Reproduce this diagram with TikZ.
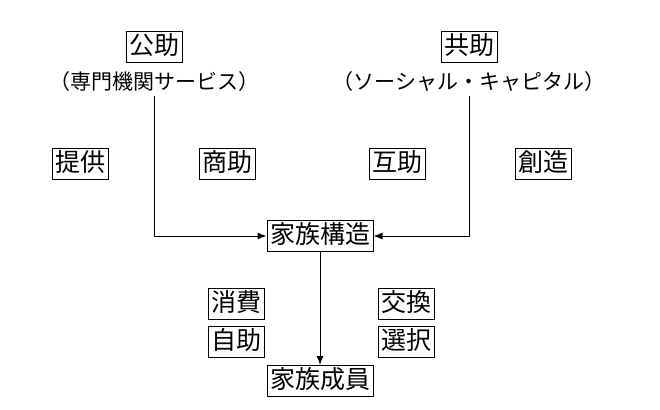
\documentclass[tikz,border=0pt]{standalone}
\usepackage{fontspec}
\setmainfont{Noto Sans CJK JP}
\usetikzlibrary{arrows.meta,positioning}

\begin{document}
\begin{tikzpicture}[
    x=1pt, y=-1pt,
    >={Latex[length=9pt,width=7pt]},
    font=\fontsize{25}{28}\selectfont,
    node distance=35pt,
    box/.style={
		rectangle,
		draw=black,
		line width=1pt,
		text centered,
		inner sep=3pt,
		text height=20pt,
		text depth=5pt,
		fill=white
	},
	sub/.style={
		text centered,
		inner sep=0pt,
		font=\fontsize{21}{24}\selectfont
	},
	link/.style={
		line width=1pt,
		->
	}
  ]
\useasboundingbox (0,0) rectangle (660,409);

% // top: 公助 and 共助
 \node [box] (kojo) at (154,47) {公助};
 \node [sub, below of=kojo] (kojosub) {（専門機関サービス）};
 \node [box] (kyojo) at (469,47) {共助};
 \node [sub, below of=kyojo] (kyojosub) {（ソーシャル・キャピタル）};

% // middle labels
 \node [box] (teikyo) at (80,164) {提供};
 \node [box] (shojo) at (227,164) {商助};
 \node [box] (gojo) at (397,164) {互助};
 \node [box] (sozo) at (543,164) {創造};

% // family
 \node [box] (kozo) at (320,236) {家族構造};
 \node [box] (seiin) at (320,381) {家族成員};

 \node [box] (shohi) at (236,304) {消費};
 \node [box] (jijo) at (236,342) {自助};
 \node [box] (kokan) at (406,304) {交換};
 \node [box] (sentaku) at (406,342) {選択};

 \draw [link] (kojosub.south) ++(0,4) |- (kozo.west);
 \draw [link] (kyojosub.south) ++(0,4) |- (kozo.east);
 \draw [link] (kozo) -- (seiin);

\end{tikzpicture}
\end{document}
